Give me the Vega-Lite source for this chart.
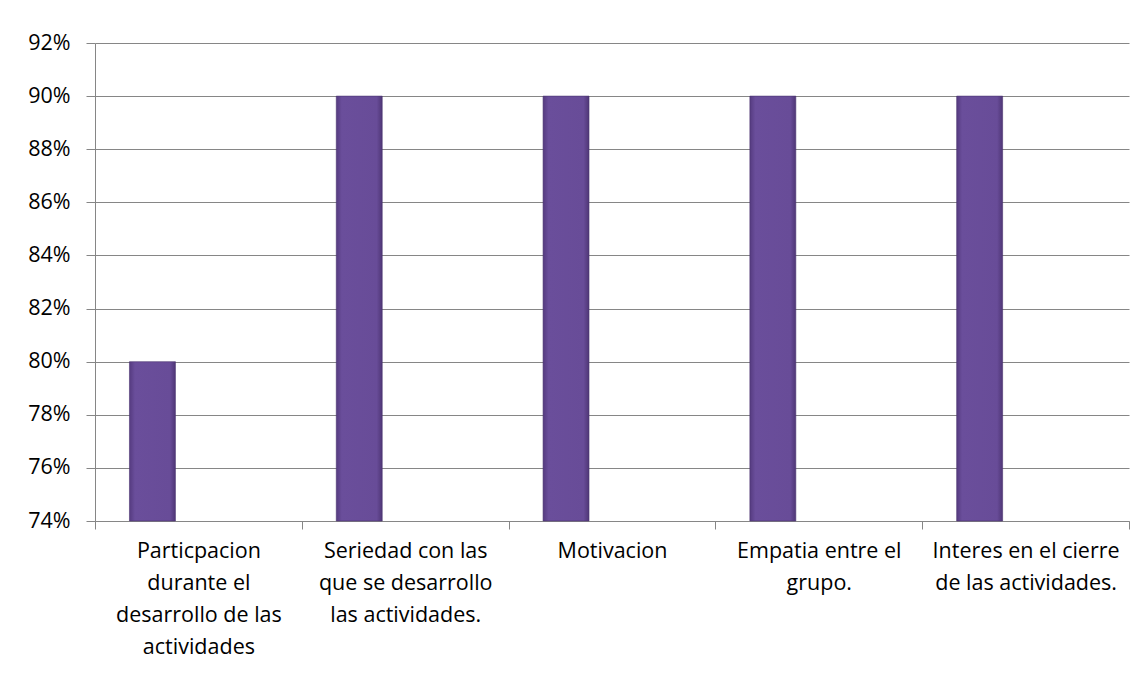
{
  "$schema": "https://vega.github.io/schema/vega-lite/v6.json",
  "width": 1034,
  "height": 478,
  "autosize": {"type": "none"},
  "padding": {"left": 95, "top": 43, "right": 18, "bottom": 157},
  "background": "white",
  "data": {
    "values": [
      {"cat": "Particpacion|durante el|desarrollo de las|actividades", "series": "Serie 1", "value": 0.80},
      {"cat": "Seriedad con las|que se desarrollo|las actividades.", "series": "Serie 1", "value": 0.90},
      {"cat": "Motivacion", "series": "Serie 1", "value": 0.90},
      {"cat": "Empatia entre el|grupo.", "series": "Serie 1", "value": 0.90},
      {"cat": "Interes en el cierre|de las actividades.", "series": "Serie 1", "value": 0.90}
    ]
  },
  "mark": {
    "type": "bar",
    "color": {
      "gradient": "linear", "x1": 0, "x2": 1, "y1": 0, "y2": 0,
      "stops": [
        {"offset": 0, "color": "#553b80"},
        {"offset": 0.12, "color": "#6a4e9b"},
        {"offset": 0.88, "color": "#684c98"},
        {"offset": 1, "color": "#4f3676"}
      ]
    },
    "stroke": "#4a3470",
    "strokeWidth": 0.6
  },
  "encoding": {
    "x": {
      "field": "cat",
      "type": "nominal",
      "sort": null,
      "scale": {"paddingInner": 0, "paddingOuter": 0},
      "axis": {
        "title": null,
        "labelAngle": 0,
        "labelExpr": "split(datum.label, '|')",
        "labelFont": "Open Sans",
        "labelFontSize": 21.5,
        "labelColor": "#000000",
        "labelLineHeight": 32,
        "labelPadding": 11,
        "labelLimit": 300,
        "tickBand": "extent",
        "tickSize": 8,
        "tickColor": "#868686",
        "domainColor": "#868686",
        "grid": false
      }
    },
    "xOffset": {
      "field": "series",
      "type": "nominal",
      "scale": {"domain": ["Serie 1", "Serie 2", "Serie 3"], "paddingInner": 0, "paddingOuter": 0.75}
    },
    "y": {
      "field": "value",
      "type": "quantitative",
      "scale": {"domain": [0.74, 0.92], "zero": false, "nice": false},
      "axis": {
        "title": null,
        "format": ".0%",
        "values": [0.74, 0.76, 0.78, 0.80, 0.82, 0.84, 0.86, 0.88, 0.90, 0.92],
        "labelFont": "Open Sans",
        "labelFontSize": 21.5,
        "labelColor": "#000000",
        "labelPadding": 16,
        "tickSize": 9,
        "tickColor": "#868686",
        "domainColor": "#868686",
        "gridColor": "#868686",
        "gridOpacity": 1
      }
    },
    "y2": {"datum": 0.74}
  },
  "config": {
    "view": {"stroke": null},
    "legend": {"disable": true}
  }
}
